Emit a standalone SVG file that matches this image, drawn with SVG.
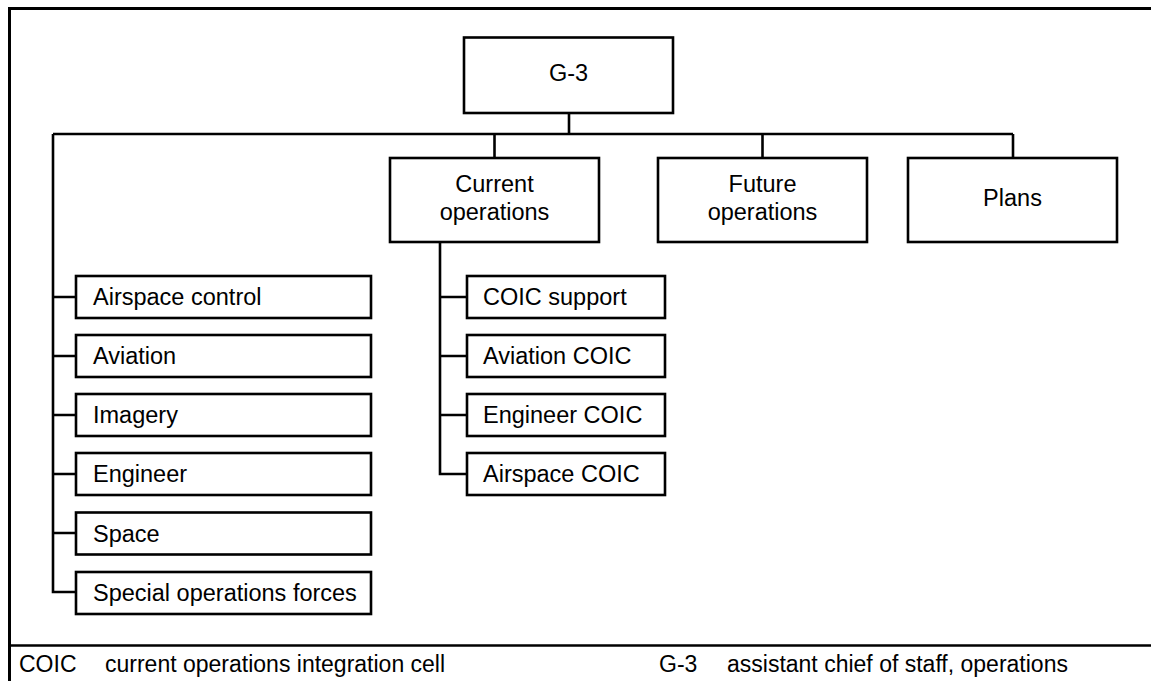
<svg xmlns="http://www.w3.org/2000/svg" width="1151" height="681" viewBox="0 0 1151 681">
<style>
.box{fill:#fff;stroke:#000;stroke-width:2.6}
.ln{fill:none;stroke:#000;stroke-width:2.6}
.fr{fill:none;stroke:#000;stroke-width:3}
text{font-family:"Liberation Sans",Arial,sans-serif;font-size:23.5px;fill:#000}
.c{text-anchor:middle}
.lg{font-size:23px}
</style>
<rect width="1151" height="681" fill="#fff"/>
<g id="frame">
<path class="fr" d="M9.5,681 V8.5 H1151"/>
<path class="ln" d="M9.5,645.5 H1151" stroke-width="3"/>
</g>
<g id="connectors">
<path class="ln" d="M569,113 V134"/>
<path class="ln" d="M53,134 H1013"/>
<path class="ln" d="M494.5,134 V158"/>
<path class="ln" d="M762.5,134 V158"/>
<path class="ln" d="M1013,134 V158"/>
<path class="ln" d="M53,134 V592 H76"/>
<path class="ln" d="M53,297 H76 M53,356 H76 M53,415 H76 M53,474 H76 M53,533 H76"/>
<path class="ln" d="M440,242 V474 H467"/>
<path class="ln" d="M440,297 H467 M440,356 H467 M440,415 H467"/>
</g>
<g id="g3"><rect class="box" x="464" y="37.5" width="209" height="75.5"/><text class="c" x="568.5" y="81">G-3</text></g>
<g id="current-ops"><rect class="box" x="390" y="158" width="209" height="84"/><text class="c" x="494.5" y="192">Current</text><text class="c" x="494.5" y="220">operations</text></g>
<g id="future-ops"><rect class="box" x="658" y="158" width="209" height="84"/><text class="c" x="762.5" y="192">Future</text><text class="c" x="762.5" y="220">operations</text></g>
<g id="plans"><rect class="box" x="908" y="158" width="209" height="84"/><text class="c" x="1012.5" y="206">Plans</text></g>
<g id="airspace-control"><rect class="box" x="76" y="276" width="295" height="42"/><text x="93" y="305">Airspace control</text></g>
<g id="aviation"><rect class="box" x="76" y="335" width="295" height="42"/><text x="93" y="364">Aviation</text></g>
<g id="imagery"><rect class="box" x="76" y="394" width="295" height="42"/><text x="93" y="423">Imagery</text></g>
<g id="engineer"><rect class="box" x="76" y="453" width="295" height="42"/><text x="93" y="482">Engineer</text></g>
<g id="space"><rect class="box" x="76" y="512.5" width="295" height="42"/><text x="93" y="541.5">Space</text></g>
<g id="sof"><rect class="box" x="76" y="572" width="295" height="42"/><text x="93" y="601">Special operations forces</text></g>
<g id="coic-support"><rect class="box" x="467" y="276" width="198" height="42"/><text x="483" y="305">COIC support</text></g>
<g id="aviation-coic"><rect class="box" x="467" y="335" width="198" height="42"/><text x="483" y="364">Aviation COIC</text></g>
<g id="engineer-coic"><rect class="box" x="467" y="394" width="198" height="42"/><text x="483" y="423">Engineer COIC</text></g>
<g id="airspace-coic"><rect class="box" x="467" y="453" width="198" height="42"/><text x="483" y="482">Airspace COIC</text></g>
<g id="legend">
<text class="lg" x="19" y="672">COIC</text>
<text class="lg" x="105" y="672">current operations integration cell</text>
<text class="lg" x="659" y="672">G-3</text>
<text class="lg" x="727" y="672">assistant chief of staff, operations</text>
</g>
</svg>
